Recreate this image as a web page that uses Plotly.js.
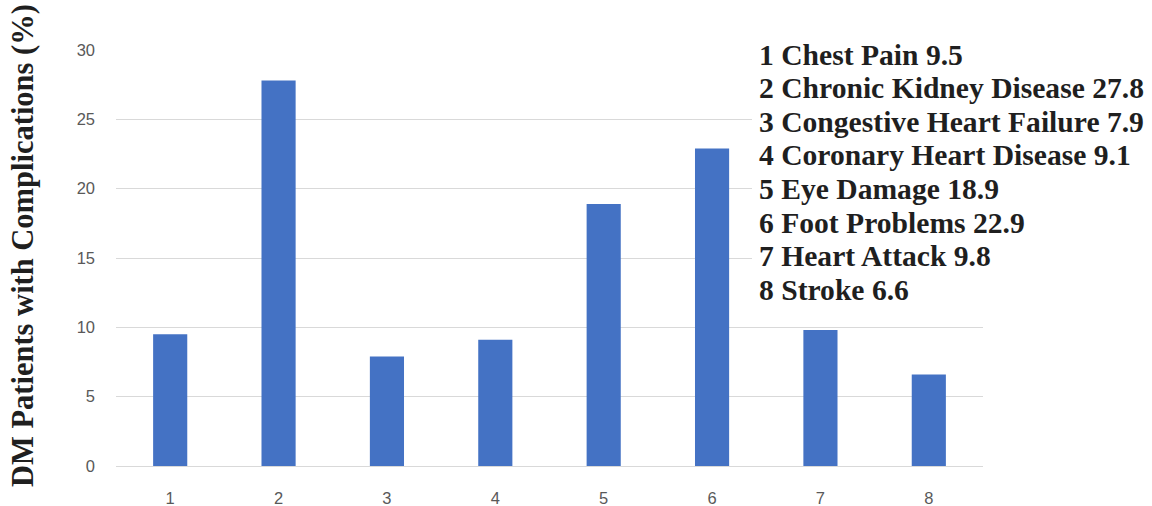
<!DOCTYPE html>
<html>
<head>
<meta charset="utf-8">
<script src="https://cdn.plot.ly/plotly-3.0.1.min.js"></script>
<style>html,body{margin:0;padding:0;background:#fff;}#chart{width:1152px;height:506px;}</style>
</head>
<body>
<div id="chart"></div>
<script>
const categories = ['1', '2', '3', '4', '5', '6', '7', '8'];
const complicationNames = ['Chest Pain', 'Chronic Kidney Disease', 'Congestive Heart Failure', 'Coronary Heart Disease', 'Eye Damage', 'Foot Problems', 'Heart Attack', 'Stroke'];
const values = [9.5, 27.8, 7.9, 9.1, 18.9, 22.9, 9.8, 6.6];
const yTickVals = [0, 5, 10, 15, 20, 25, 30];

const W = 1152, H = 506;
const L = 116, R = 983, T = 50, B = 466;
const px = x => (x - L) / (R - L);
const py = y => (B - y) / (B - T);

const legendFont = {family: 'Liberation Serif, Times New Roman, serif', size: 29.6, color: '#1f1f1f', weight: 'bold'};

const legendAnnotations = categories.map((c, i) => ({
  xref: 'paper', yref: 'paper',
  x: px(758), y: py(54.5 + i * 33.6),
  xanchor: 'left', yanchor: 'middle',
  align: 'left',
  showarrow: false,
  borderpad: 0,
  text: c + ' ' + complicationNames[i] + ' ' + values[i],
  font: legendFont
}));

const trace = {
  type: 'bar',
  x: categories,
  y: values,
  marker: {color: '#4472C4'},
  hoverinfo: 'x+y'
};

const layout = {
  width: W, height: H,
  margin: {l: L, r: W - R, t: T, b: H - B, pad: 0},
  paper_bgcolor: '#ffffff',
  plot_bgcolor: '#ffffff',
  bargap: 0.685,
  showlegend: false,
  xaxis: {
    type: 'category',
    showgrid: false,
    showline: true,
    linecolor: '#d9d9d9',
    linewidth: 1,
    zeroline: false,
    ticks: '',
    ticklabelstandoff: 17,
    tickfont: {family: 'Liberation Sans, Arial, sans-serif', size: 16.5, color: '#595959'}
  },
  yaxis: {
    range: [0, 30],
    tickvals: yTickVals,
    showgrid: true,
    gridcolor: '#d9d9d9',
    gridwidth: 1,
    zeroline: false,
    showline: false,
    ticks: '',
    ticklabelstandoff: 20,
    tickfont: {family: 'Liberation Sans, Arial, sans-serif', size: 16.5, color: '#595959'}
  },
  shapes: [
    {
      type: 'rect', xref: 'paper', yref: 'paper', layer: 'above',
      x0: px(752), x1: px(1152), y0: py(36), y1: py(308),
      fillcolor: '#ffffff', line: {width: 0}
    }
  ],
  annotations: legendAnnotations.concat([
    {
      xref: 'paper', yref: 'paper',
      x: px(23), y: py(246),
      xanchor: 'center', yanchor: 'middle',
      textangle: -90,
      showarrow: false,
      text: 'DM Patients with Complications (%)',
      font: {family: 'Liberation Serif, Times New Roman, serif', size: 30.5, color: '#1f1f1f', weight: 'bold'}
    }
  ])
};

Plotly.newPlot('chart', [trace], layout, {displayModeBar: false, staticPlot: true});
</script>
</body>
</html>
